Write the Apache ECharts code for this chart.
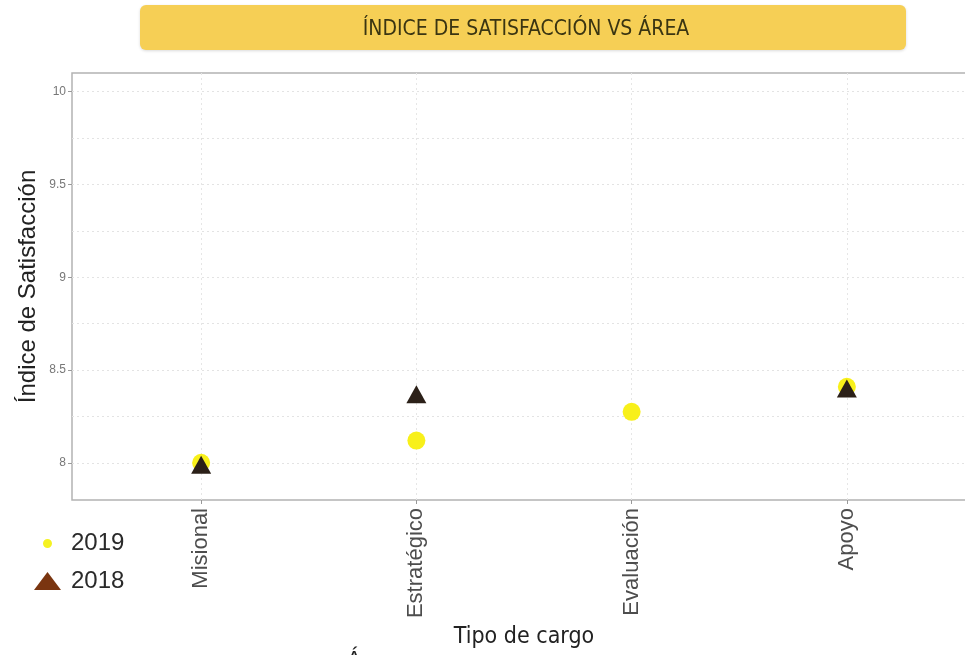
<!DOCTYPE html>
<html>
<head>
<meta charset="utf-8">
<script src="https://cdn.jsdelivr.net/npm/echarts@6/dist/echarts.min.js"></script>
<style>
  html, body { margin: 0; padding: 0; background: #fff; }
  #chart { width: 965px; height: 655px; }
</style>
</head>
<body>
<div id="chart"></div>
<script>
// categories on the x axis
const categories = ["Misional", "Estratégico", "Evaluación", "Apoyo"];
// satisfaction index per year (null = no point)
const values2019 = [8.0, 8.12, 8.275, 8.41];
const values2018 = [7.99, 8.37, null, 8.40];
const yTicks = [8, 8.5, 9, 9.5, 10];
const yGrid = [8, 8.25, 8.5, 8.75, 9, 9.25, 9.5, 9.75, 10];

const toPoints = (vals) => vals.map((v, i) => (v === null ? null : [i, v])).filter((p) => p);

const narrow = "'Liberation Sans Narrow', 'DejaVu Sans Condensed', sans-serif";
const sans = "'Liberation Sans', Arial, sans-serif";

const chart = echarts.init(document.getElementById("chart"), null, { renderer: "canvas" });

const option = {
    animation: false,
    backgroundColor: "#fff",
    graphic: [
        {
            type: "rect",
            shape: { x: 140, y: 5, width: 766, height: 45, r: 6 },
            style: { fill: "#F6CF55", shadowBlur: 3, shadowColor: "rgba(0,0,0,0.15)", shadowOffsetY: 1 },
            z: 10,
        },
        {
            type: "text",
            x: 526,
            y: 30,
            style: {
                text: "ÍNDICE DE SATISFACCIÓN VS ÁREA",
                fill: "#3a3512",
                font: "21px " + narrow,
                align: "center",
                verticalAlign: "middle",
            },
            z: 11,
        },
        {
            type: "text",
            x: 354,
            y: 649,
            style: { text: "Á", fill: "#222", font: "22px " + sans, align: "center", verticalAlign: "top" },
        },
    ],
    legend: {
        orient: "vertical",
        left: 34,
        top: 530,
        itemWidth: 27,
        itemHeight: 18,
        itemGap: 12,
        padding: 0,
        textStyle: { fontSize: 24, fontFamily: sans, color: "#2a2a2a", padding: [0, 0, 0, 5] },
        data: [
            { name: "2019", icon: "circle", itemStyle: { color: "#F5F222", borderColor: "#fff", borderWidth: 9 } },
            { name: "2018", icon: "triangle", itemStyle: { color: "#7A3510" } },
        ],
    },
    grid: {
        left: 72,
        right: -11,
        top: 73,
        bottom: 155,
        outerBoundsMode: "none",
        containLabel: false,
        show: true,
        borderColor: "#b3b3b3",
        borderWidth: 1.5,
        backgroundColor: "#fff",
    },
    xAxis: {
        type: "value",
        min: -0.6,
        max: 3.6,
        name: "Tipo de cargo",
        nameLocation: "middle",
        nameGap: 126,
        nameTextStyle: { fontSize: 23, fontFamily: narrow, color: "#222" },
        axisLine: { show: false },
        axisTick: { show: true, length: 4, customValues: [0, 1, 2, 3], lineStyle: { color: "#999" } },
        axisLabel: {
            customValues: [0, 1, 2, 3],
            rotate: 90,
            margin: 8,
            fontSize: 22,
            fontFamily: sans,
            color: "#4d4d4d",
            formatter: (v) => categories[Math.round(v)],
        },
        splitLine: { show: true, lineStyle: { color: "#e6e6e6", type: [2, 3], width: 1 } },
    },
    yAxis: [
        {
            type: "value",
            min: 7.8,
            max: 10.1,
            name: "Índice de Satisfacción",
            nameLocation: "middle",
            nameGap: 32,
            nameRotate: 90,
            nameTextStyle: { fontSize: 24, fontFamily: sans, color: "#222" },
            axisLine: { show: false },
            axisTick: { show: false, customValues: yGrid },
            axisLabel: { show: false, customValues: yGrid },
            splitLine: { show: true, lineStyle: { color: "#e3e3e3", type: [2, 3], width: 1 } },
        },
        {
            type: "value",
            position: "left",
            min: 7.8,
            max: 10.1,
            axisLine: { show: false },
            axisTick: { show: true, length: 4, customValues: yTicks, lineStyle: { color: "#999" } },
            axisLabel: {
                customValues: yTicks,
                fontSize: 12,
                fontFamily: sans,
                color: "#777",
                margin: 6,
            },
            splitLine: { show: false },
        },
    ],
    series: [
        {
            name: "2019",
            type: "scatter",
            symbol: "circle",
            symbolSize: 18,
            itemStyle: { color: "#F8F01A", opacity: 1 },
            data: toPoints(values2019),
            z: 3,
        },
        {
            name: "2018",
            type: "scatter",
            symbol: "triangle",
            symbolSize: [20, 18],
            itemStyle: { color: "#2B2018", opacity: 1 },
            data: toPoints(values2018),
            z: 4,
        },
    ],
};

chart.setOption(option);
</script>
</body>
</html>
